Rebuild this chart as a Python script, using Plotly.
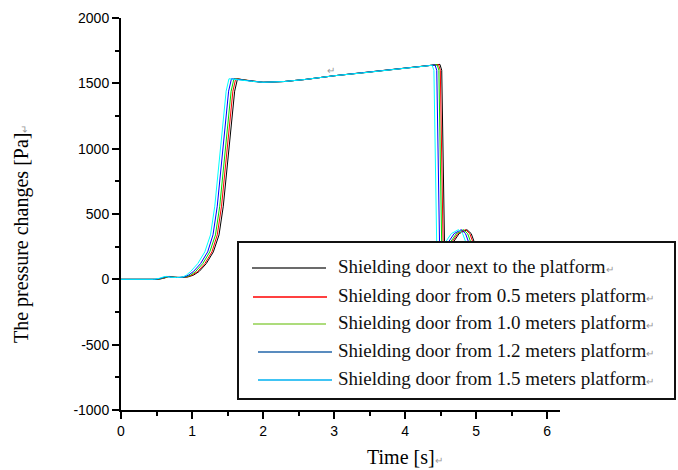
import plotly.graph_objects as go

# Pressure change at the shielding door, five door distances from the platform edge
time_next = [0.00, 0.52, 0.60, 0.68, 0.76, 0.84, 0.94, 1.02, 1.10, 1.20, 1.30, 1.38, 1.44, 1.50, 1.55, 1.60, 1.64, 1.72,
             1.85, 2.00, 2.30, 2.60, 3.00, 3.40, 3.80, 4.20, 4.40, 4.49, 4.515, 4.535, 4.555, 4.58, 4.66, 4.76, 4.87,
             4.93, 4.97, 5.04, 5.20, 6.00]
p_next = [0, 0, 8, 22, 16, 14, 18, 32, 60, 120, 210, 340, 560, 880, 1180, 1440, 1535, 1528,
          1515, 1508, 1514, 1530, 1558, 1580, 1602, 1625, 1638, 1645, 1600, 900, 250, 120, 270, 350, 380,
          350, 290, 120, 0, 0]

time_05 = [0.00, 0.51, 0.59, 0.67, 0.75, 0.83, 0.93, 1.00, 1.08, 1.18, 1.28, 1.355, 1.415, 1.475, 1.525, 1.575, 1.615, 1.70,
           1.85, 2.00, 2.30, 2.60, 3.00, 3.40, 3.80, 4.20, 4.38, 4.47, 4.495, 4.515, 4.535, 4.56, 4.64, 4.74, 4.85,
           4.91, 4.95, 5.02, 5.18, 6.00]
p_05 = [0, 0, 8, 22, 16, 14, 18, 32, 60, 120, 210, 340, 560, 880, 1180, 1440, 1535, 1528,
        1515, 1508, 1514, 1530, 1558, 1580, 1602, 1625, 1637, 1644, 1600, 900, 250, 120, 270, 350, 380,
        350, 290, 120, 0, 0]

time_10 = [0.00, 0.50, 0.58, 0.66, 0.74, 0.82, 0.91, 0.98, 1.05, 1.15, 1.25, 1.33, 1.39, 1.45, 1.50, 1.55, 1.59, 1.68,
           1.85, 2.00, 2.30, 2.60, 3.00, 3.40, 3.80, 4.20, 4.36, 4.45, 4.475, 4.495, 4.515, 4.54, 4.62, 4.72, 4.82,
           4.88, 4.92, 4.99, 5.15, 6.00]
p_10 = [0, 0, 8, 22, 16, 14, 18, 32, 60, 120, 210, 340, 560, 880, 1180, 1440, 1535, 1528,
        1515, 1508, 1514, 1530, 1558, 1580, 1602, 1625, 1636, 1643, 1600, 900, 250, 120, 270, 350, 380,
        350, 290, 120, 0, 0]

time_12 = [0.00, 0.48, 0.56, 0.64, 0.72, 0.80, 0.89, 0.95, 1.02, 1.12, 1.22, 1.295, 1.355, 1.415, 1.465, 1.515, 1.555, 1.65,
           1.85, 2.00, 2.30, 2.60, 3.00, 3.40, 3.80, 4.20, 4.33, 4.42, 4.445, 4.465, 4.485, 4.51, 4.59, 4.69, 4.79,
           4.85, 4.89, 4.96, 5.12, 6.00]
p_12 = [0, 0, 8, 22, 16, 14, 18, 32, 60, 120, 210, 340, 560, 880, 1180, 1440, 1535, 1528,
        1515, 1508, 1514, 1530, 1558, 1580, 1602, 1625, 1634, 1641, 1600, 900, 250, 120, 270, 350, 380,
        350, 290, 120, 0, 0]

time_15 = [0.00, 0.46, 0.54, 0.62, 0.70, 0.78, 0.87, 0.92, 0.98, 1.08, 1.18, 1.26, 1.32, 1.38, 1.43, 1.48, 1.52, 1.62,
           1.85, 2.00, 2.30, 2.60, 3.00, 3.40, 3.80, 4.20, 4.30, 4.38, 4.405, 4.425, 4.445, 4.47, 4.55, 4.65, 4.75,
           4.81, 4.85, 4.92, 5.08, 6.00]
p_15 = [0, 0, 8, 22, 16, 14, 18, 32, 60, 120, 210, 340, 560, 880, 1180, 1440, 1535, 1528,
        1515, 1508, 1514, 1530, 1558, 1580, 1602, 1625, 1632, 1638, 1600, 900, 250, 120, 270, 350, 380,
        350, 290, 120, 0, 0]

series_names = [
    "Shielding door next to the platform",
    "Shielding door from 0.5 meters platform",
    "Shielding door from 1.0 meters platform",
    "Shielding door from 1.2 meters platform",
    "Shielding door from 1.5 meters platform",
]
series_time = [time_next, time_05, time_10, time_12, time_15]
series_p = [p_next, p_05, p_10, p_12, p_15]
line_colors = ["#000000", "#FF0000", "#00DD00", "#0000FF", "#00FFFF"]
key_colors = ["#3A3A3A", "#FF0000", "#92D050", "#2266AA", "#00B0F0"]

x_ticks = [0, 1, 2, 3, 4, 5, 6]
y_ticks = [-1000, -500, 0, 500, 1000, 1500, 2000]

# plot-area geometry in pixels
W, H = 678, 470
L, R, T, B = 121, 118, 18, 60
PW, PH = W - L - R, H - T - B


def px(xp):
    return (xp - L) / PW


def py(yp):
    return (H - B - yp) / PH


fig = go.Figure()
for name, t, p, c in zip(series_names, series_time, series_p, line_colors):
    fig.add_trace(go.Scatter(x=t, y=p, mode="lines", name=name,
                             line=dict(color=c, width=1), showlegend=False))

axis_font = dict(family="Liberation Sans, Arial", size=14, color="#000")
fig.update_xaxes(range=[0, 6.18], tickvals=x_ticks, ticktext=[str(v) for v in x_ticks],
                 ticks="outside", ticklen=7, tickwidth=1.5,
                 tickcolor="#000", showline=True, linewidth=2, linecolor="#000", showgrid=False,
                 zeroline=False, tickfont=axis_font,
                 minor=dict(ticks="outside", dtick=0.5, ticklen=4, tickwidth=1.5, tickcolor="#000"))
fig.update_yaxes(range=[-1000, 2000], tickvals=y_ticks, ticktext=[str(v) for v in y_ticks],
                 ticks="outside", ticklen=7, tickwidth=1.5,
                 tickcolor="#000", showline=True, linewidth=2, linecolor="#000", showgrid=False,
                 zeroline=False, tickfont=axis_font,
                 minor=dict(ticks="outside", dtick=250, ticklen=4, tickwidth=1.5, tickcolor="#000"))

ret = '<span style="font-size:10px;color:#999">↵</span>'
serif = "Liberation Serif, Times New Roman"

annotations = [
    dict(text="The pressure changes [Pa]" + ret, xref="paper", yref="paper", x=px(22), y=py(234),
         xanchor="center", yanchor="middle",
         textangle=-90, showarrow=False, font=dict(family=serif, size=20, color="#000")),
    dict(text="Time [s]" + ret, xref="paper", yref="paper", x=px(405), y=py(457),
         xanchor="center", yanchor="middle",
         showarrow=False, font=dict(family=serif, size=20, color="#000")),
    dict(text=ret, xref="paper", yref="paper", x=px(331), y=py(70), xanchor="center", yanchor="middle",
         showarrow=False),
]

# key box
shapes = [dict(type="rect", xref="paper", yref="paper", x0=px(238), x1=px(675), y0=py(399), y1=py(242),
               fillcolor="#fff", line=dict(color="#111", width=2), layer="above")]
row_y = [268, 297, 324, 352, 380]
line_x = [(252, 326), (253, 327), (253, 326), (258, 332), (258, 332)]
for name, c, yy, (xa, xb) in zip(series_names, key_colors, row_y, line_x):
    shapes.append(dict(type="line", xref="paper", yref="paper", x0=px(xa), x1=px(xb), y0=py(yy), y1=py(yy),
                       line=dict(color=c, width=1.5), layer="above"))
    annotations.append(dict(text=name + ret, xref="paper", yref="paper", x=px(336), y=py(yy - 2),
                            xanchor="left", yanchor="middle", showarrow=False,
                            font=dict(family=serif, size=19, color="#111")))

fig.update_layout(width=W, height=H, margin=dict(l=L, r=R, t=T, b=B, autoexpand=False),
                  plot_bgcolor="#fff", paper_bgcolor="#fff", showlegend=False,
                  shapes=shapes, annotations=annotations)

fig.write_html("out.html")
